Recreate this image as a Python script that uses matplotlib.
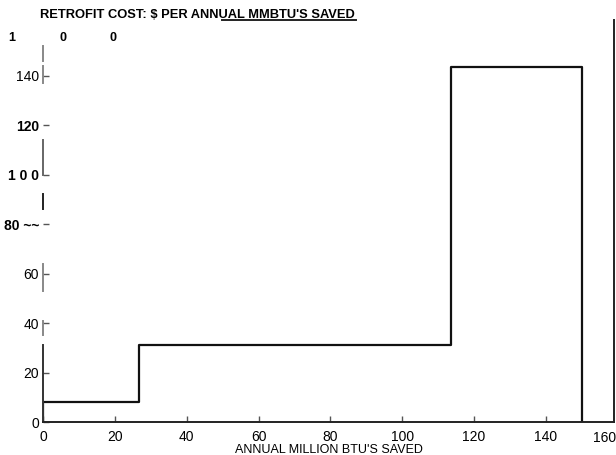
import matplotlib
matplotlib.use("Agg")
import matplotlib.pyplot as plt

# Step data: edges (annual million BTU saved) and cost levels ($ per annual MMBTU saved)
edges = [0, 26.7, 113.5, 150]
costs = [8, 31, 143.5]
xticks = [0, 20, 40, 60, 80, 100, 120, 140]
xticklabels = ["0", "20", "40", "60", "80", "100", "120", "140"]
yticks = [0, 20, 40, 60, 80, 100, 120, 140]
yticklabels = ["0", "20", "40", "60", "80 ~~", "1 0 0", "120", "140"]
bold_ylabels = ["80 ~~", "1 0 0", "120"]

YMAX = 162.5
fig = plt.figure(figsize=(6.16, 4.55), dpi=100)
ax = fig.add_axes([43.2/616, 33/455, (614-43.2)/616, (422-20)/455])

xs = [edges[0]]
ys = [0]
for i, c in enumerate(costs):
    xs += [edges[i], edges[i+1]]
    ys += [c, c]
xs.append(edges[-1]); ys.append(0)
ax.plot(xs, ys, color="#111111", lw=1.6, solid_joinstyle="round")

ax.set_xlim(0, 159)
ax.set_ylim(0, YMAX)
ax.set_xticks(xticks)
ax.set_xticklabels(xticklabels, fontsize=10, family="Liberation Sans")
ax.set_yticks(yticks)
ax.set_yticklabels(yticklabels, fontsize=10, family="Liberation Sans")
ax.tick_params(direction="in", length=4, width=1, color="#555555")
ax.tick_params(axis="x", pad=6)
ax.tick_params(axis="y", pad=3)
for lab in ax.get_yticklabels():
    if lab.get_text() in bold_ylabels:
        lab.set_fontweight("bold")
for s in ["bottom", "right", "top"]:
    ax.spines[s].set_linewidth(1.4)
    ax.spines[s].set_color("#222222")
ax.spines["top"].set_bounds(49.8, 87)
ax.spines["left"].set_visible(False)
# broken (scanned) left axis line
for lo, hi, col in [(146, 152, "#888888"), (137, 144, "#888888"), (100, 114, "#666666"),
                    (86, 92, "#222222"), (53, 64, "#888888"), (35, 41, "#888888"),
                    (0, 31, "#333333")]:
    ax.axvline(0, ymin=lo/YMAX, ymax=hi/YMAX, color=col, lw=1.4, clip_on=False)

ax.text(1.0 + 2/571, -0.022, "160", transform=ax.transAxes, ha="right", va="top",
        fontsize=10, family="Liberation Sans")
ax.set_xlabel("ANNUAL MILLION BTU'S SAVED", fontsize=9, family="Liberation Sans", labelpad=0)
fig.text(40.5/616, 1 - 15/455, "RETROFIT COST: $ PER ANNUAL MMBTU'S SAVED", ha="left",
         va="center", fontsize=9.3, fontweight="bold", family="Liberation Sans")
for xp, t in [(12, "1"), (63, "0"), (113, "0")]:
    fig.text(xp/616, 1 - 38/455, t, ha="center", va="center", fontsize=9,
             fontweight="bold", family="Liberation Sans")

fig.savefig("out.png", dpi=100)
